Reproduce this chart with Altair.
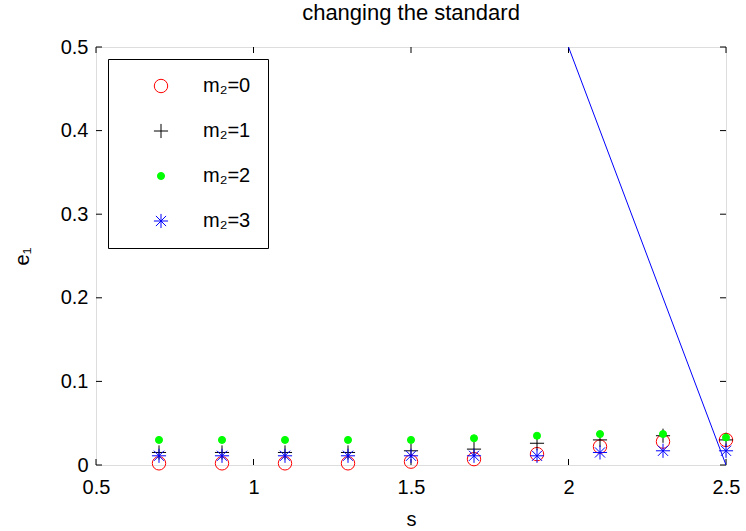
import altair as alt
import pandas as pd

# Sample positions and e1 estimates for each m2 setting
s_vals = [0.7, 0.9, 1.1, 1.3, 1.5, 1.7, 1.9, 2.1, 2.3, 2.5]
e1_m0 = [0.002, 0.002, 0.002, 0.002, 0.004, 0.007, 0.013, 0.022, 0.028, 0.030]
e1_m1 = [0.015, 0.015, 0.015, 0.015, 0.017, 0.019, 0.026, 0.030, 0.035, 0.030]
e1_m2 = [0.030, 0.030, 0.030, 0.030, 0.030, 0.032, 0.035, 0.037, 0.037, 0.033]
e1_m3 = [0.011, 0.011, 0.011, 0.011, 0.011, 0.011, 0.011, 0.015, 0.017, 0.017]

series_names = ["m\u2082=0", "m\u2082=1", "m\u2082=2", "m\u2082=3"]

# Reference line
line_s = [2.0, 2.5]
line_e = [0.5, 0.0]

# Axis tick values
x_ticks = [0.5, 1.0, 1.5, 2.0, 2.5]
y_ticks = [0.0, 0.1, 0.2, 0.3, 0.4, 0.5]

W, H = 630, 418
FONT = "Liberation Sans"
FS = 20

rows = []
for name, vals in zip(series_names, [e1_m0, e1_m1, e1_m2, e1_m3]):
    for s, e in zip(s_vals, vals):
        rows.append({"s": s, "e1": e, "series": name})
pts = pd.DataFrame(rows)
pts["order"] = pts["series"].map({n: i for i, n in enumerate(series_names)})

plus_path = "M-1,0H1M0,-1V1"
star_path = "M-1,0H1M0,-1V1M-0.72,-0.72L0.72,0.72M-0.72,0.72L0.72,-0.72"

xscale = alt.Scale(domain=[0.5, 2.5], nice=False, zero=False)
yscale = alt.Scale(domain=[0, 0.5], nice=False, zero=False)

legend = alt.Legend(
    title=None, orient="none", legendX=12, legendY=12,
    strokeColor="black", fillColor="white", padding=17,
    rowPadding=25, labelFontSize=FS, labelFont=FONT, labelColor="black",
    symbolStrokeWidth=1, symbolOffset=26, labelOffset=32,
    cornerRadius=0,
)

points = alt.Chart(pts).mark_point(filled=False, opacity=1, strokeWidth=1).encode(
    x=alt.X("s:Q", scale=xscale, axis=alt.Axis(
        values=x_ticks, title="s", ticks=False, domain=False, grid=False,
        labelFontSize=FS, labelFont=FONT, labelPadding=12, labelColor="black",
        titleFontSize=FS, titleFont=FONT, titleFontWeight="normal", titleColor="black",
        titlePadding=12, labelFlush=False,
        labelExpr="format(datum.value, '~g')")),
    y=alt.Y("e1:Q", scale=yscale, axis=alt.Axis(
        values=y_ticks, title="e\u2081", ticks=False, domain=False, grid=False,
        labelFontSize=FS, labelFont=FONT, labelPadding=8, labelColor="black",
        titleFontSize=FS, titleFont=FONT, titleFontWeight="normal", titleColor="black",
        titlePadding=28, labelFlush=False,
        labelExpr="format(datum.value, '~g')")),
    stroke=alt.Stroke("series:N", scale=alt.Scale(
        domain=series_names, range=["#ff0000", "#000000", "#00ff00", "#0000ff"]), legend=legend),
    fill=alt.Fill("series:N", scale=alt.Scale(
        domain=series_names, range=["transparent", "transparent", "#00ff00", "transparent"]), legend=legend),
    shape=alt.Shape("series:N", scale=alt.Scale(
        domain=series_names, range=["circle", plus_path, "circle", star_path]), legend=legend),
    size=alt.Size("series:N", scale=alt.Scale(
        type="ordinal", domain=series_names, range=[180, 200, 50, 200]), legend=legend),
    order=alt.Order("order:Q"),
)

line = alt.Chart(pd.DataFrame({"s": line_s, "e1": line_e})).mark_line(
    color="#0000ff", strokeWidth=1, clip=True
).encode(x=alt.X("s:Q", scale=xscale), y=alt.Y("e1:Q", scale=yscale))

xt = pd.DataFrame({"v": x_ticks})
yt = pd.DataFrame({"v": y_ticks})
tick_len = 6
xticks_bottom = alt.Chart(xt).mark_rule(color="black", strokeWidth=1).encode(
    x=alt.X("v:Q", scale=xscale), y=alt.value(H), y2=alt.value(H - tick_len))
xticks_top = alt.Chart(xt).mark_rule(color="black", strokeWidth=1).encode(
    x=alt.X("v:Q", scale=xscale), y=alt.value(0), y2=alt.value(tick_len))
yticks_left = alt.Chart(yt).mark_rule(color="black", strokeWidth=1).encode(
    y=alt.Y("v:Q", scale=yscale), x=alt.value(0), x2=alt.value(tick_len))
yticks_right = alt.Chart(yt).mark_rule(color="black", strokeWidth=1).encode(
    y=alt.Y("v:Q", scale=yscale), x=alt.value(W), x2=alt.value(W - tick_len))

chart = alt.layer(
    xticks_bottom, xticks_top, yticks_left, yticks_right, line, points
).properties(
    width=W, height=H,
    title=alt.TitleParams("changing the standard", fontSize=22, font=FONT,
                          fontWeight="normal", color="black", offset=12, anchor="middle"),
    autosize=alt.AutoSizeParams(type="none"),
    padding={"left": 96, "top": 47, "right": 20, "bottom": 66},
).configure_view(
    stroke="black", strokeWidth=1
).configure(background="white")

chart.save("out.html", embed_options={"renderer": "svg", "actions": False})
